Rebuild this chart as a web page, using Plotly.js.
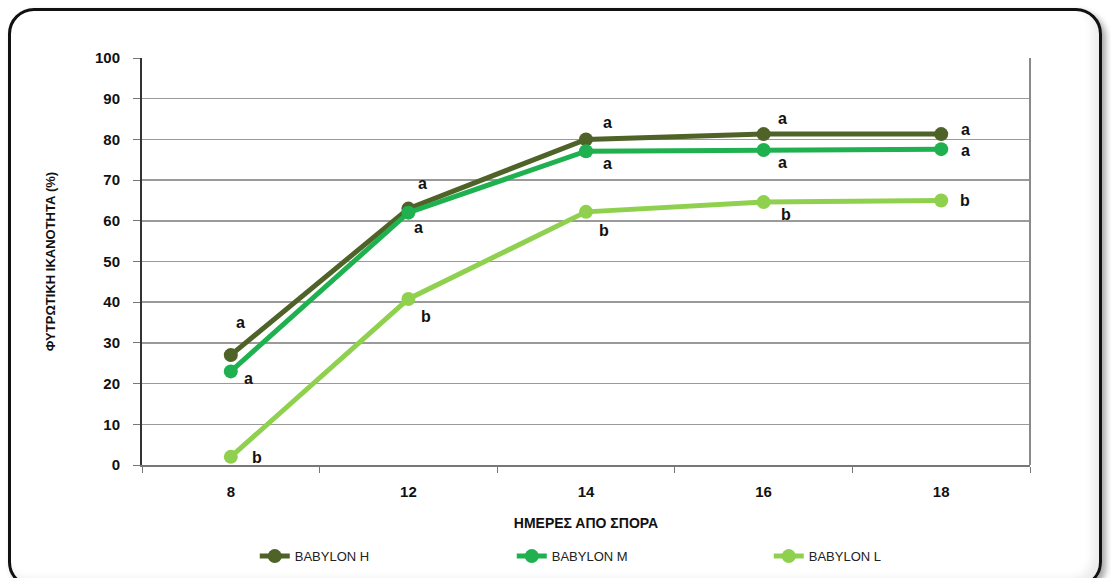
<!DOCTYPE html>
<html>
<head>
<meta charset="utf-8">
<script src="https://cdn.plot.ly/plotly-3.0.1.min.js"></script>
<style>
  html, body { margin: 0; padding: 0; background: #ffffff; }
  #wrap { position: relative; width: 1111px; height: 578px; overflow: hidden; background: #ffffff; }
  #frame { position: absolute; left: 8px; top: 8px; width: 1094px; height: 580px;
           border: 3px solid #111; border-radius: 26px; box-sizing: border-box;
           box-shadow: 4px 4px 6px rgba(0,0,0,0.35), inset -6px -6px 10px rgba(0,0,0,0.08); }
  #chart { position: absolute; left: 0; top: 0; width: 1111px; height: 578px; }
</style>
</head>
<body>
<div id="wrap">
  <div id="frame"></div>
  <div id="chart"></div>
</div>
<script>
// ---- data ----
const days = ['8', '12', '14', '16', '18'];
const babylonH = [27, 63, 80, 81.3, 81.3];
const babylonM = [23, 62, 77.1, 77.4, 77.6];
const babylonL = [2, 40.8, 62.2, 64.6, 65];
const lettersH = ['a', 'a', 'a', 'a', 'a'];
const lettersM = ['a', 'a', 'a', 'a', 'a'];
const lettersL = ['b', 'b', 'b', 'b', 'b'];
const yTicks = [0, 10, 20, 30, 40, 50, 60, 70, 80, 90, 100];

// ---- styles ----
const colH = '#4f6228';
const colM = '#1fb14f';
const colL = '#8fd14f';
const offH = [[10, -33], [14, -25], [21, -17], [19, -16], [24, -5]];
const offM = [[18, 7], [10, 15], [21, 12], [19, 13], [24, 1]];
const offL = [[26, 1], [18, 18], [18, 19], [22, 12], [24, 0]];

function trace(name, y, col) {
  return {
    x: days, y: y, name: name, type: 'scatter', mode: 'lines+markers',
    line: { color: col, width: 5 },
    marker: { color: col, size: 14 }
  };
}

const data = [
  trace('BABYLON H', babylonH, colH),
  trace('BABYLON M', babylonM, colM),
  trace('BABYLON L', babylonL, colL)
];

const annotations = [];
function addLetters(vals, letters, offs) {
  vals.forEach((v, i) => {
    annotations.push({
      x: i, y: v, xref: 'x', yref: 'y', text: '<b>' + letters[i] + '</b>', showarrow: false,
      xshift: offs[i][0], yshift: -offs[i][1],
      font: { family: 'Arial, Liberation Sans, sans-serif', size: 16, color: '#111' }
    });
  });
}
addLetters(babylonH, lettersH, offH);
addLetters(babylonM, lettersM, offM);
addLetters(babylonL, lettersL, offL);

const layout = {
  width: 1111, height: 578,
  paper_bgcolor: 'rgba(0,0,0,0)', plot_bgcolor: '#ffffff',
  margin: { l: 142, r: 81, t: 58, b: 113, autoexpand: false },
  font: { family: 'Arial, Liberation Sans, sans-serif', color: '#111' },
  showlegend: true,
  legend: {
    orientation: 'h', x: 0.127, xanchor: 'left', y: -0.224, yanchor: 'middle',
    font: { size: 13, color: '#222' }, entrywidth: 212, bgcolor: 'rgba(0,0,0,0)'
  },
  xaxis: {
    type: 'category', categoryorder: 'array', categoryarray: days, range: [-0.5, 4.5],
    tickson: 'boundaries', ticks: 'outside', ticklen: 6, tickcolor: '#777',
    ticklabelstandoff: 12,
    showgrid: false, showline: true, linecolor: '#777', linewidth: 2,
    tickfont: { size: 15, color: '#111', weight: 'bold' },
    title: { text: 'ΗΜΕΡΕΣ ΑΠΟ ΣΠΟΡΑ', font: { size: 14, color: '#111', weight: 'bold' }, standoff: 19 },
    zeroline: false, fixedrange: true
  },
  yaxis: {
    range: [0, 100], tickvals: yTicks, ticks: 'outside', ticklen: 7, tickcolor: '#777',
    ticklabelstandoff: 10,
    showgrid: true, gridcolor: '#9a9a9a', gridwidth: 1.5,
    showline: true, linecolor: '#333', linewidth: 2, zeroline: false,
    tickfont: { size: 15, color: '#111', weight: 'bold' },
    title: { text: 'ΦΥΤΡΩΤΙΚΗ ΙΚΑΝΟΤΗΤΑ (%)', font: { size: 13, color: '#111', weight: 'bold' }, standoff: 36 },
    fixedrange: true
  },
  shapes: [
    { type: 'line', xref: 'paper', yref: 'paper', x0: 1, x1: 1, y0: 0, y1: 1,
      line: { color: '#8a8a8a', width: 2 } }
  ],
  annotations: annotations
};

Plotly.newPlot('chart', data, layout, { displayModeBar: false, staticPlot: true });
</script>
</body>
</html>
